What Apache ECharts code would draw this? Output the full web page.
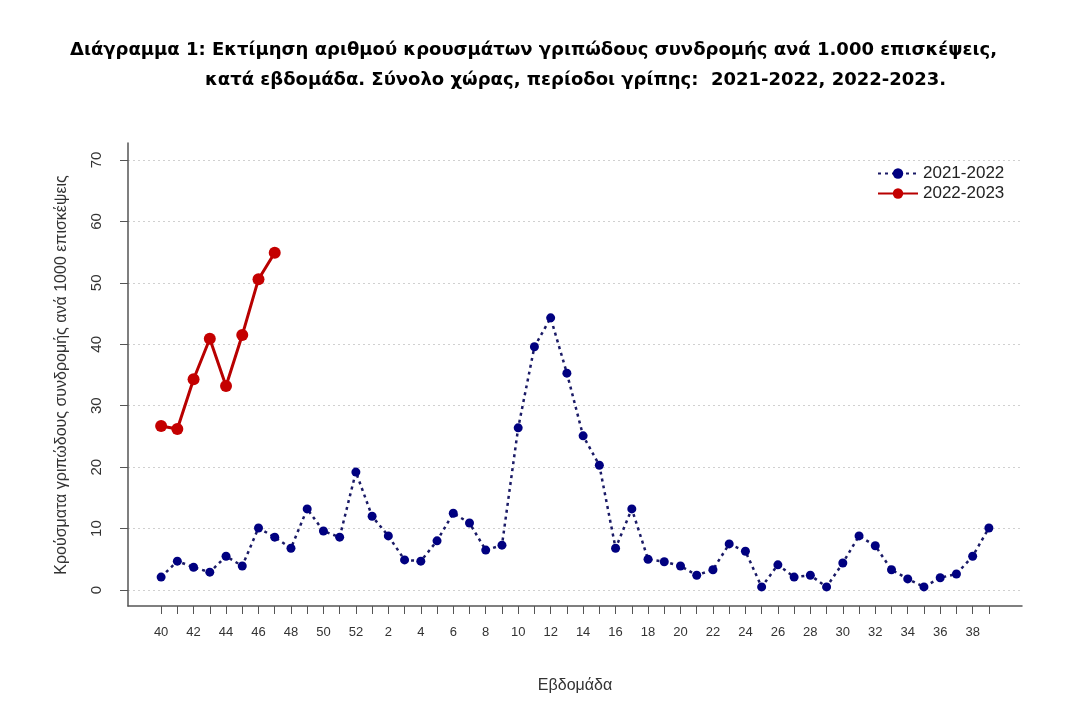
<!DOCTYPE html>
<html>
<head>
<meta charset="utf-8">
<script src="https://cdn.jsdelivr.net/npm/echarts@6/dist/echarts.min.js"></script>
<style>
  html, body { margin: 0; padding: 0; background: #fff; }
  #main { width: 1079px; height: 715px; }
</style>
</head>
<body>
<div id="main"></div>
<script>
// weeks of the flu season: 40..52 then 1..39
var weeks = [40, 41, 42, 43, 44, 45, 46, 47, 48, 49, 50, 51, 52,
  1, 2, 3, 4, 5, 6, 7, 8, 9, 10, 11, 12, 13, 14, 15, 16, 17, 18, 19, 20,
  21, 22, 23, 24, 25, 26, 27, 28, 29, 30, 31, 32, 33, 34, 35, 36, 37, 38, 39];

// 2021-2022, one value per week
var season2122 = [2.1, 4.7, 3.7, 2.9, 5.5, 3.9, 10.1, 8.6, 6.8, 13.2, 9.6, 8.6, 19.2,
  12.0, 8.8, 4.9, 4.7, 8.0, 12.5, 10.9, 6.5, 7.3, 26.4, 39.6, 44.3, 35.3, 25.1, 20.3,
  6.8, 13.2, 5.0, 4.6, 3.9, 2.4, 3.3, 7.5, 6.3, 0.5, 4.1, 2.1, 2.4, 0.5, 4.4, 8.8,
  7.2, 3.3, 1.8, 0.5, 2.0, 2.6, 5.5, 10.1];

// 2022-2023, weeks 40..47
var season2223 = [26.7, 26.2, 34.3, 40.9, 33.2, 41.5, 50.6, 54.9];

var tickIdx = [], labelIdx = [];
for (var i = 0; i < weeks.length; i++) {
  tickIdx.push(i);
  if (i % 2 === 0) labelIdx.push(i);
}

function pairs(arr) {
  var out = [];
  for (var i = 0; i < arr.length; i++) out.push([i, arr[i]]);
  return out;
}

var FONT = '"Liberation Sans", Arial, sans-serif';
var TITLE_FONT = '"DejaVu Sans", Verdana, sans-serif';
var chart = echarts.init(document.getElementById('main'), null, { renderer: 'canvas' });

var option = {
  backgroundColor: '#ffffff',
  animation: false,
  textStyle: { fontFamily: FONT },
  title: [{
    text: 'Διάγραμμα 1: Εκτίμηση αριθμού κρουσμάτων γριπώδους συνδρομής ανά 1.000 επισκέψεις,',
    left: 65, top: 36,
    textStyle: { fontFamily: TITLE_FONT, fontWeight: 'bold', fontSize: 18, color: '#000' }
  }, {
    text: 'κατά εβδομάδα. Σύνολο χώρας, περίοδοι γρίπης:  2021-2022, 2022-2023.',
    left: 200, top: 66,
    textStyle: { fontFamily: TITLE_FONT, fontWeight: 'bold', fontSize: 18, color: '#000' }
  }],
  legend: {
    left: 872, top: 160,
    orient: 'vertical',
    itemGap: 3,
    itemWidth: 40,
    itemHeight: 13,
    textStyle: { fontFamily: FONT, fontSize: 17, color: '#222' },
    data: ['2021-2022', '2022-2023']
  },
  grid: [
    { left: 128, right: 57, top: 160, bottom: 125 },
    { left: 128, right: 57, top: 143, bottom: 109 }
  ],
  xAxis: [{
    gridIndex: 0,
    type: 'value',
    min: -2.04, max: 53.04,
    offset: 16,
    name: 'Εβδομάδα',
    nameLocation: 'middle',
    nameGap: 72,
    nameTextStyle: { fontFamily: FONT, fontSize: 16, color: '#333' },
    axisLine: { show: true, onZero: false, lineStyle: { color: '#555', width: 1.5 } },
    axisTick: { show: true, length: 8, customValues: tickIdx, lineStyle: { color: '#555', width: 1 } },
    axisLabel: {
      customValues: labelIdx,
      margin: 20,
      fontFamily: FONT, fontSize: 13, color: '#333',
      formatter: function (v) { return String(weeks[v]); }
    },
    splitLine: { show: false }
  }, {
    gridIndex: 1,
    type: 'value',
    show: false
  }],
  yAxis: [{
    gridIndex: 0,
    type: 'value',
    min: 0, max: 70, interval: 10,
    name: 'Κρούσματα γριπώδους συνδρομής ανά 1000 επισκέψεις',
    nameLocation: 'middle',
    nameGap: 58,
    nameRotate: 90,
    nameTextStyle: { fontFamily: FONT, fontSize: 16, color: '#333' },
    axisLine: { show: false, onZero: false },
    axisTick: { show: true, length: 8, lineStyle: { color: '#555', width: 1 } },
    axisLabel: {
      rotate: 90,
      margin: 24,
      fontFamily: FONT, fontSize: 15, color: '#333'
    },
    splitLine: { show: true, lineStyle: { color: '#d0d0d0', type: [2, 3], width: 1 } }
  }, {
    gridIndex: 1,
    type: 'value',
    axisLine: { show: true, onZero: false, lineStyle: { color: '#555', width: 1.5 } },
    axisTick: { show: false },
    axisLabel: { show: false },
    splitLine: { show: false }
  }],
  series: [{
    name: '2021-2022',
    type: 'line',
    xAxisIndex: 0, yAxisIndex: 0,
    data: pairs(season2122),
    symbol: 'circle',
    symbolSize: 9,
    itemStyle: { color: '#000080' },
    lineStyle: { color: '#1a1a66', width: 2.5, type: [3, 4] }
  }, {
    name: '2022-2023',
    type: 'line',
    xAxisIndex: 0, yAxisIndex: 0,
    data: pairs(season2223),
    symbol: 'circle',
    symbolSize: 12,
    itemStyle: { color: '#c40000' },
    lineStyle: { color: '#b80000', width: 3 }
  }]
};

chart.setOption(option);
</script>
</body>
</html>
